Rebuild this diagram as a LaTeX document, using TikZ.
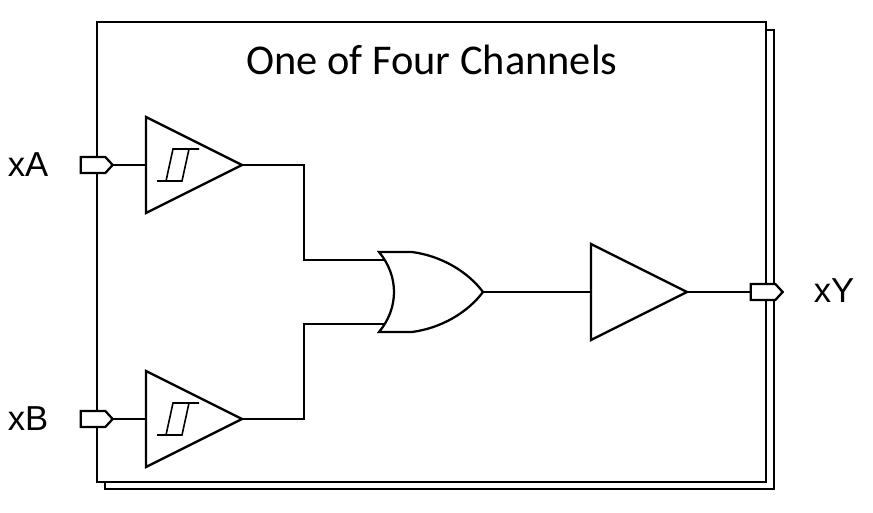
\documentclass[tikz,border=0pt]{standalone}
\usepackage{fontspec}
\setmainfont{Carlito}
\newfontfamily\pinfont{Liberation Sans}
\usetikzlibrary{shapes.geometric,shapes.symbols}

\begin{document}
\begin{tikzpicture}[x=0.75pt,y=-0.75pt,line width=1.7pt,line join=miter]
    \tikzstyle{buffer} = [isosceles triangle, isosceles triangle stretches, draw, fill=white, inner sep=0pt, outer sep=0pt, minimum width=72pt, minimum height=72pt, anchor=lower side]
    \tikzstyle{port} = [signal, signal to=east, signal pointer angle=95, draw, fill=white, inner sep=0pt, outer sep=0pt, minimum width=24pt, minimum height=12pt]
    \tikzstyle{wire} = [line width=1.7pt]
    \tikzstyle{lbl} = [inner sep=0pt, font=\pinfont\fontsize{26pt}{30pt}\selectfont]
    \useasboundingbox (0,0) rectangle (873,513);

    % Outer frames
    \draw (766,30) -- (774,30) -- (774,489) -- (105,489) -- (105,482);
    \draw (97,22) rectangle (766,482);
    \node[inner sep=0pt, font=\fontsize{31.8pt}{38pt}\selectfont] (title) at (432,60) {One of Four Channels};

    % Ports
    \node[port] (portA) at (93,165) {};
    \node[port] (portB) at (93,419) {};
    \node[port] (portY) at (763,292) {};
    \node[lbl] (labelA) at (28,165) {xA};
    \node[lbl] (labelB) at (28,419) {xB};
    \node[lbl] (labelY) at (834,291) {xY};

    % Input and output buffers
    \node[buffer] (bufA) at (146,165) {};
    \node[buffer] (bufB) at (146,419) {};
    \node[buffer] (bufY) at (591,292) {};

    % Hysteresis marks
    \foreach \name in {bufA,bufB} {
        \draw[line width=1.2pt] ([shift={(11,16)}]\name.lower side) -- ++(25,0) -- ++(7,-32) -- ++(10,0)
            ([shift={(20,16)}]\name.lower side) -- ++(7,-32) -- ++(26,0);
    }

    % OR gate
    \coordinate (orIn1) at (386,260);
    \coordinate (orIn2) at (386,324);
    \coordinate (orOut) at (483,292);
    \draw[wire] (bufA.apex) -| (304,260) -- (orIn1);
    \draw[wire] (bufB.apex) -| (304,324) -- (orIn2);
    \draw[fill=white] (379,252) -- (412,252) .. controls (442,256) and (468,272) .. (orOut)
        .. controls (468,312) and (442,328) .. (412,332) -- (379,332)
        .. controls (399,308) and (399,276) .. cycle;

    % Remaining wires
    \draw[wire] (portA.east) -- (bufA.lower side);
    \draw[wire] (portB.east) -- (bufB.lower side);
    \draw[wire] (orOut) -- (bufY.lower side);
    \draw[wire] (bufY.apex) -- (portY.west);
\end{tikzpicture}
\end{document}
